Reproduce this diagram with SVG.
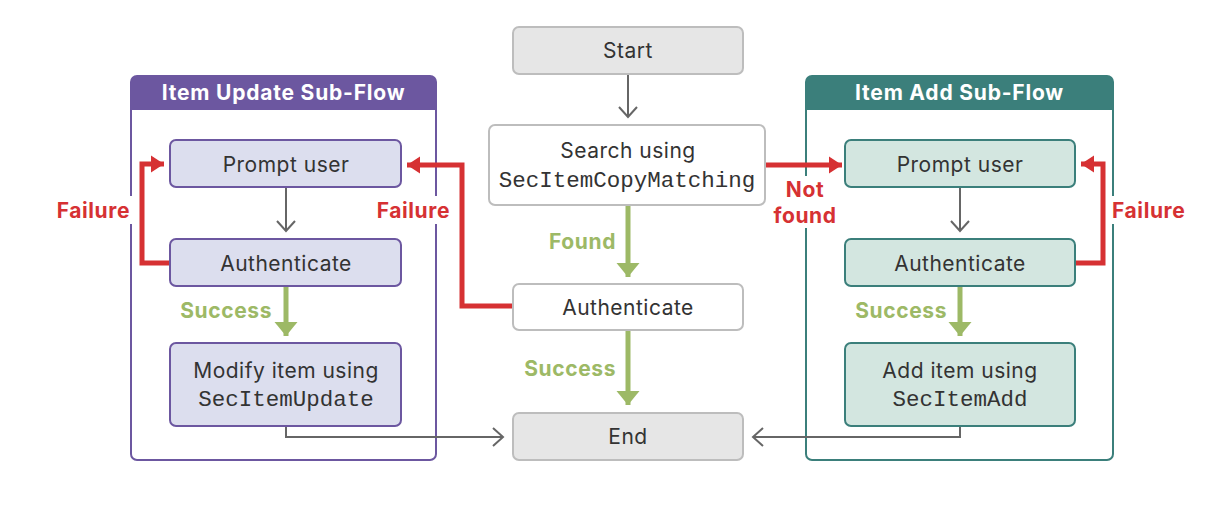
<svg xmlns="http://www.w3.org/2000/svg" width="1232" height="506" viewBox="0 0 1232 506">
<style>
.t{font-family:Inter,"Liberation Sans",sans-serif;font-size:21px;letter-spacing:0.5px;fill:#333;text-anchor:middle}
.m{font-family:"Liberation Mono","DejaVu Sans Mono",monospace;font-size:22.5px;fill:#333;text-anchor:middle}
.h{font-family:Inter,"Liberation Sans",sans-serif;font-size:21px;letter-spacing:0.8px;font-weight:bold;fill:#fff;text-anchor:middle}
.lr{font-family:Inter,"Liberation Sans",sans-serif;font-size:21px;letter-spacing:0.6px;font-weight:bold;fill:#D63133}
.lg{font-family:Inter,"Liberation Sans",sans-serif;font-size:21px;letter-spacing:0.6px;font-weight:bold;fill:#9DB966}
.gbox{fill:#E6E6E6;stroke:#BDBDBD;stroke-width:2}
.wbox{fill:#fff;stroke:#BDBDBD;stroke-width:2}
.pbox{fill:#DCDEEE;stroke:#6C57A0;stroke-width:2}
.tbox{fill:#D3E6E0;stroke:#3B7F7B;stroke-width:2}
.gray{fill:none;stroke:#666;stroke-width:2;marker-end:url(#ag)}
.red{fill:none;stroke:#D63133;stroke-width:5;marker-end:url(#ar)}
.grn{fill:none;stroke:#9DB966;stroke-width:5;marker-end:url(#agr)}
</style>
<defs>
<marker id="ag" markerUnits="userSpaceOnUse" markerWidth="20" markerHeight="20" viewBox="-12 -10 14 20" refX="0" refY="0" orient="auto">
<path d="M-10,-9 L0,0 L-10,9" fill="none" stroke="#666" stroke-width="2"/>
</marker>
<marker id="ar" markerUnits="userSpaceOnUse" markerWidth="20" markerHeight="20" viewBox="-14 -10 16 20" refX="0" refY="0" orient="auto">
<path d="M-13,-8.5 L0,0 L-13,8.5 Z" fill="#D63133"/>
</marker>
<marker id="agr" markerUnits="userSpaceOnUse" markerWidth="26" markerHeight="26" viewBox="-15 -13 17 26" refX="0" refY="0" orient="auto">
<path d="M-14,-11.5 L0,0 L-14,11.5 Z" fill="#9DB966"/>
</marker>
</defs>

<g id="panel-update">
<rect x="131" y="76" width="305" height="384" rx="6" fill="#fff" stroke="#6C57A0" stroke-width="2"/>
<path d="M131,110 V82 a6,6 0 0 1 6,-6 H430 a6,6 0 0 1 6,6 V110 Z" fill="#6C57A0"/>
<text class="h" x="283.5" y="100">Item Update Sub-Flow</text>
</g>
<g id="panel-add">
<rect x="806" y="76" width="307" height="384" rx="6" fill="#fff" stroke="#3B7F7B" stroke-width="2"/>
<path d="M806,110 V82 a6,6 0 0 1 6,-6 H1107 a6,6 0 0 1 6,6 V110 Z" fill="#3B7F7B"/>
<text class="h" x="959.5" y="100">Item Add Sub-Flow</text>
</g>

<g id="connectors">
<path class="gray" d="M628,74 V117"/>
<path class="grn" d="M628,205 V277"/>
<path class="grn" d="M628,330 V405"/>
<path class="red" d="M513,306 H462 V165 H407"/>
<path class="red" d="M765,165 H842"/>
<path class="gray" d="M286,187 V231"/>
<path class="red" d="M170,263 H142 V164 H164"/>
<path class="grn" d="M286,286 V336"/>
<path class="gray" d="M286,426 V437 H503"/>
<path class="gray" d="M960,187 V231"/>
<path class="red" d="M1075,263 H1103 V164 H1081"/>
<path class="grn" d="M960,286 V336"/>
<path class="gray" d="M960,426 V437 H753"/>
</g>

<g id="labels">
<rect x="52" y="196" width="80" height="28" fill="#fff"/>
<text class="lr" x="130" y="218" text-anchor="end">Failure</text>
<rect x="372" y="196" width="80" height="28" fill="#fff"/>
<text class="lr" x="450" y="218" text-anchor="end">Failure</text>
<rect x="1110" y="196" width="80" height="28" fill="#fff"/>
<text class="lr" x="1112" y="218">Failure</text>
<rect x="770" y="176" width="70" height="52" fill="#fff"/>
<text class="lr" x="805" y="197" text-anchor="middle">Not</text>
<text class="lr" x="805" y="223" text-anchor="middle">found</text>
<text class="lg" x="616" y="249" text-anchor="end">Found</text>
<text class="lg" x="616" y="376" text-anchor="end">Success</text>
<text class="lg" x="272" y="318" text-anchor="end">Success</text>
<text class="lg" x="947" y="318" text-anchor="end">Success</text>
</g>

<g id="start"><rect class="gbox" x="513" y="27" width="230" height="47" rx="6"/><text class="t" x="628" y="58">Start</text></g>
<g id="search"><rect class="wbox" x="489" y="125" width="276" height="80" rx="6"/><text class="t" x="628" y="158">Search using</text><text class="m" x="627" y="187">SecItemCopyMatching</text></g>
<g id="authenticate"><rect class="wbox" x="513" y="284" width="230" height="46" rx="6"/><text class="t" x="628" y="315">Authenticate</text></g>
<g id="end"><rect class="gbox" x="513" y="413" width="230" height="47" rx="6"/><text class="t" x="628" y="444">End</text></g>

<g id="upd-prompt"><rect class="pbox" x="170" y="140" width="231" height="47" rx="6"/><text class="t" x="286" y="172">Prompt user</text></g>
<g id="upd-auth"><rect class="pbox" x="170" y="239" width="231" height="47" rx="6"/><text class="t" x="286" y="271">Authenticate</text></g>
<g id="upd-modify"><rect class="pbox" x="170" y="343" width="231" height="83" rx="6"/><text class="t" x="286" y="378">Modify item using</text><text class="m" x="286" y="406">SecItemUpdate</text></g>

<g id="add-prompt"><rect class="tbox" x="845" y="140" width="230" height="47" rx="6"/><text class="t" x="960" y="172">Prompt user</text></g>
<g id="add-auth"><rect class="tbox" x="845" y="239" width="230" height="47" rx="6"/><text class="t" x="960" y="271">Authenticate</text></g>
<g id="add-item"><rect class="tbox" x="845" y="343" width="230" height="83" rx="6"/><text class="t" x="960" y="378">Add item using</text><text class="m" x="960" y="406">SecItemAdd</text></g>
</svg>
